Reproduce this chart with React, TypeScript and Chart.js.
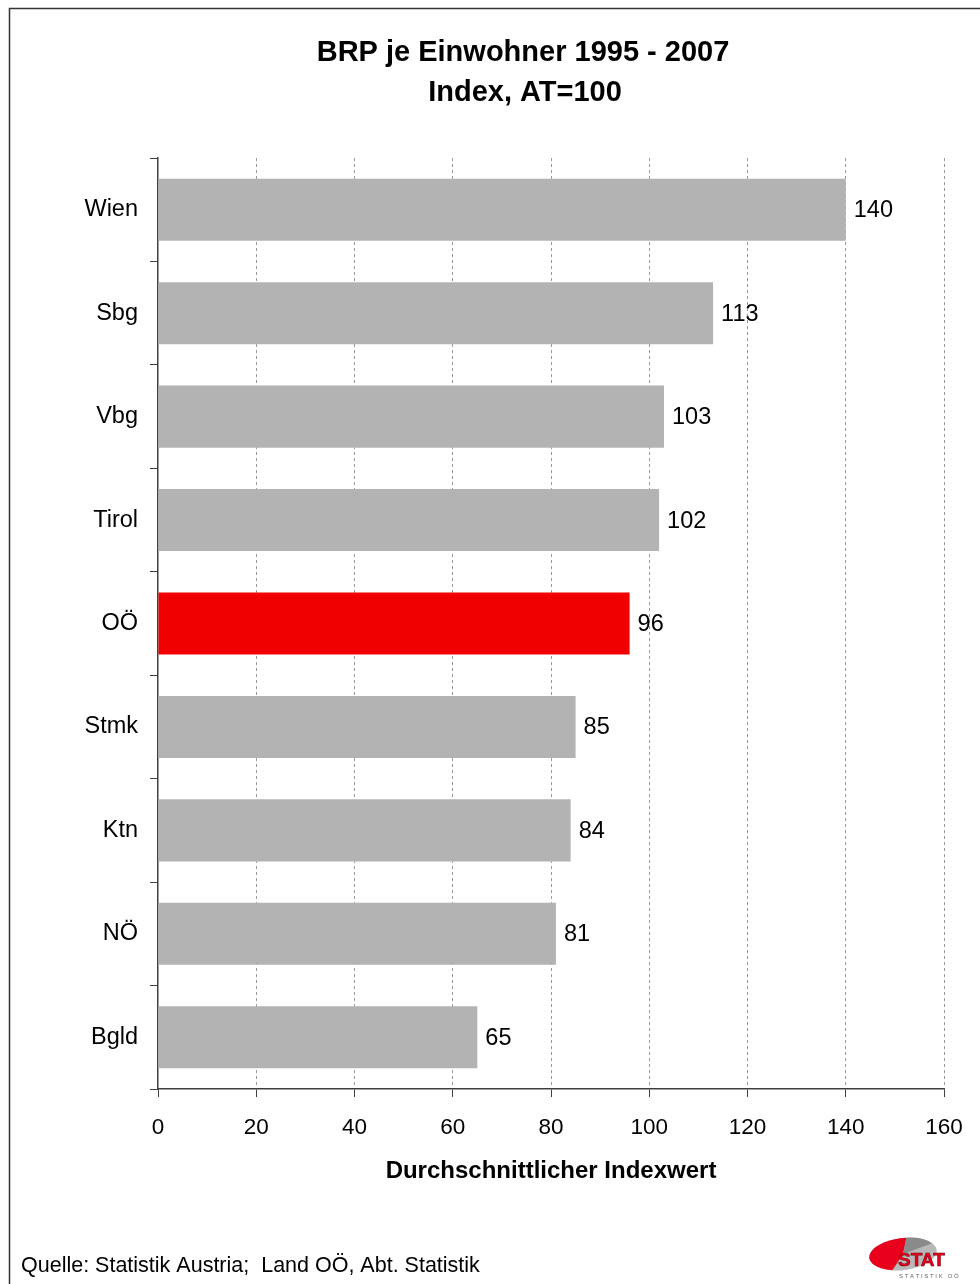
import { useEffect, useRef } from "react";
import { Chart, registerables } from "chart.js";

Chart.register(...registerables);

// Regional GDP per inhabitant, average index 1995–2007 (Austria = 100)
const regions = ["Wien", "Sbg", "Vbg", "Tirol", "OÖ", "Stmk", "Ktn", "NÖ", "Bgld"];
const indexValues = [140, 113, 103, 102, 96, 85, 84, 81, 65];
const highlightRegion = "OÖ";
const xMin = 0;
const xMax = 160;
const xStep = 20;

const titleLines = ["BRP je Einwohner 1995 - 2007", "Index, AT=100"];
const axisTitle = "Durchschnittlicher Indexwert";
const sourceNote = "Quelle: Statistik Austria;  Land OÖ, Abt. Statistik";

const FONT = "'Liberation Sans', Arial, Helvetica, sans-serif";
const BAR_GREY = "#b3b3b3";
const BAR_RED = "#f00000";
const AXIS = "#404040";

const W = 980;
const H = 1284;

const decorations = {
  id: "decorations",
  afterDraw(chart: any) {
    const ctx = chart.ctx as CanvasRenderingContext2D;
    const area = chart.chartArea;
    ctx.save();

    // frame
    ctx.strokeStyle = "#333333";
    ctx.lineWidth = 1.5;
    ctx.beginPath();
    ctx.moveTo(9.5, H);
    ctx.lineTo(9.5, 8.5);
    ctx.lineTo(W, 8.5);
    ctx.stroke();

    // title
    ctx.fillStyle = "#000";
    ctx.textAlign = "center";
    ctx.textBaseline = "middle";
    ctx.font = `bold 29px ${FONT}`;
    ctx.fillText(titleLines[0], 523, 53);
    ctx.fillText(titleLines[1], 525, 93);

    // value labels at bar ends
    const meta = chart.getDatasetMeta(0);
    ctx.font = `23.5px ${FONT}`;
    ctx.textAlign = "left";
    meta.data.forEach((el: any, i: number) => {
      ctx.fillText(String(indexValues[i]), el.x + 8, el.y + 1);
    });

    // axis title
    ctx.font = `bold 24px ${FONT}`;
    ctx.textAlign = "center";
    ctx.fillText(axisTitle, (area.left + area.right) / 2, 1171);

    // source note
    ctx.font = `21.5px ${FONT}`;
    ctx.textAlign = "left";
    ctx.fillText(sourceNote, 21, 1266);

    // logo
    const cx = 903;
    const cy = 1254;
    ctx.save();
    ctx.beginPath();
    ctx.ellipse(cx, cy, 34, 16, -0.12, 0, Math.PI * 2);
    ctx.fillStyle = "#b8b8b8";
    ctx.fill();
    ctx.beginPath();
    ctx.moveTo(cx, cy);
    ctx.ellipse(cx, cy, 34, 16, -0.12, Math.PI * 0.62, Math.PI * 1.55);
    ctx.closePath();
    ctx.fillStyle = "#e8001c";
    ctx.fill();
    ctx.beginPath();
    ctx.moveTo(cx, cy);
    ctx.ellipse(cx, cy, 34, 16, -0.12, Math.PI * 1.55, Math.PI * 1.85);
    ctx.closePath();
    ctx.fillStyle = "#8a8a8a";
    ctx.fill();
    ctx.restore();
    ctx.font = `bold 19px ${FONT}`;
    ctx.fillStyle = "#e8001c";
    ctx.strokeStyle = "#7a0010";
    ctx.lineWidth = 0.6;
    ctx.textAlign = "left";
    ctx.fillText("STAT", 898, 1261);
    ctx.strokeText("STAT", 898, 1261);
    ctx.font = `6px ${FONT}`;
    ctx.fillStyle = "#666";
    ctx.fillText("S T A T I S T I K   O Ö", 899, 1276);

    ctx.restore();
  },
};

export default function App() {
  const canvasRef = useRef<HTMLCanvasElement | null>(null);

  useEffect(() => {
    const canvas = canvasRef.current;
    if (!canvas) return;
    const chart = new Chart(canvas, {
      type: "bar",
      data: {
        labels: regions,
        datasets: [
          {
            data: indexValues,
            backgroundColor: regions.map((r) => (r === highlightRegion ? BAR_RED : BAR_GREY)),
            borderWidth: 0,
            barPercentage: 0.6,
            categoryPercentage: 1,
          },
        ],
      },
      options: {
        indexAxis: "y",
        responsive: false,
        animation: false,
        devicePixelRatio: 1,
        layout: { padding: { top: 158, right: 36, bottom: 0, left: 0 } },
        plugins: {
          legend: { display: false },
          title: { display: false },
          tooltip: { enabled: false },
        },
        scales: {
          x: {
            type: "linear",
            min: xMin,
            max: xMax,
            afterFit: (scale: any) => {
              scale.height = 195;
            },
            ticks: {
              stepSize: xStep,
              color: "#000",
              padding: 17,
              font: { family: FONT, size: 22.5 },
              maxRotation: 0,
            },
            grid: {
              color: (c: any) => (c.tick && c.tick.value === 0 ? "rgba(0,0,0,0)" : "#9a9a9a"),
              lineWidth: 1,
              drawTicks: true,
              tickLength: 8,
              tickColor: AXIS,
            },
            border: { display: true, color: AXIS, width: 1.5, dash: [3, 3] },
          },
          y: {
            afterFit: (scale: any) => {
              scale.width = 158;
            },
            ticks: {
              color: "#000",
              padding: 12,
              font: { family: FONT, size: 23.5 },
            },
            grid: {
              offset: true,
              drawOnChartArea: false,
              drawTicks: true,
              tickLength: 8,
              tickColor: AXIS,
              color: AXIS,
            },
            border: { display: true, color: AXIS, width: 1.5 },
          },
        },
      },
      plugins: [decorations],
    });
    return () => chart.destroy();
  }, []);

  return (
    <div style={{ position: "absolute", left: 0, top: 0, width: W, height: H, background: "#fff" }}>
      <canvas ref={canvasRef} width={W} height={H} style={{ display: "block" }} />
    </div>
  );
}
